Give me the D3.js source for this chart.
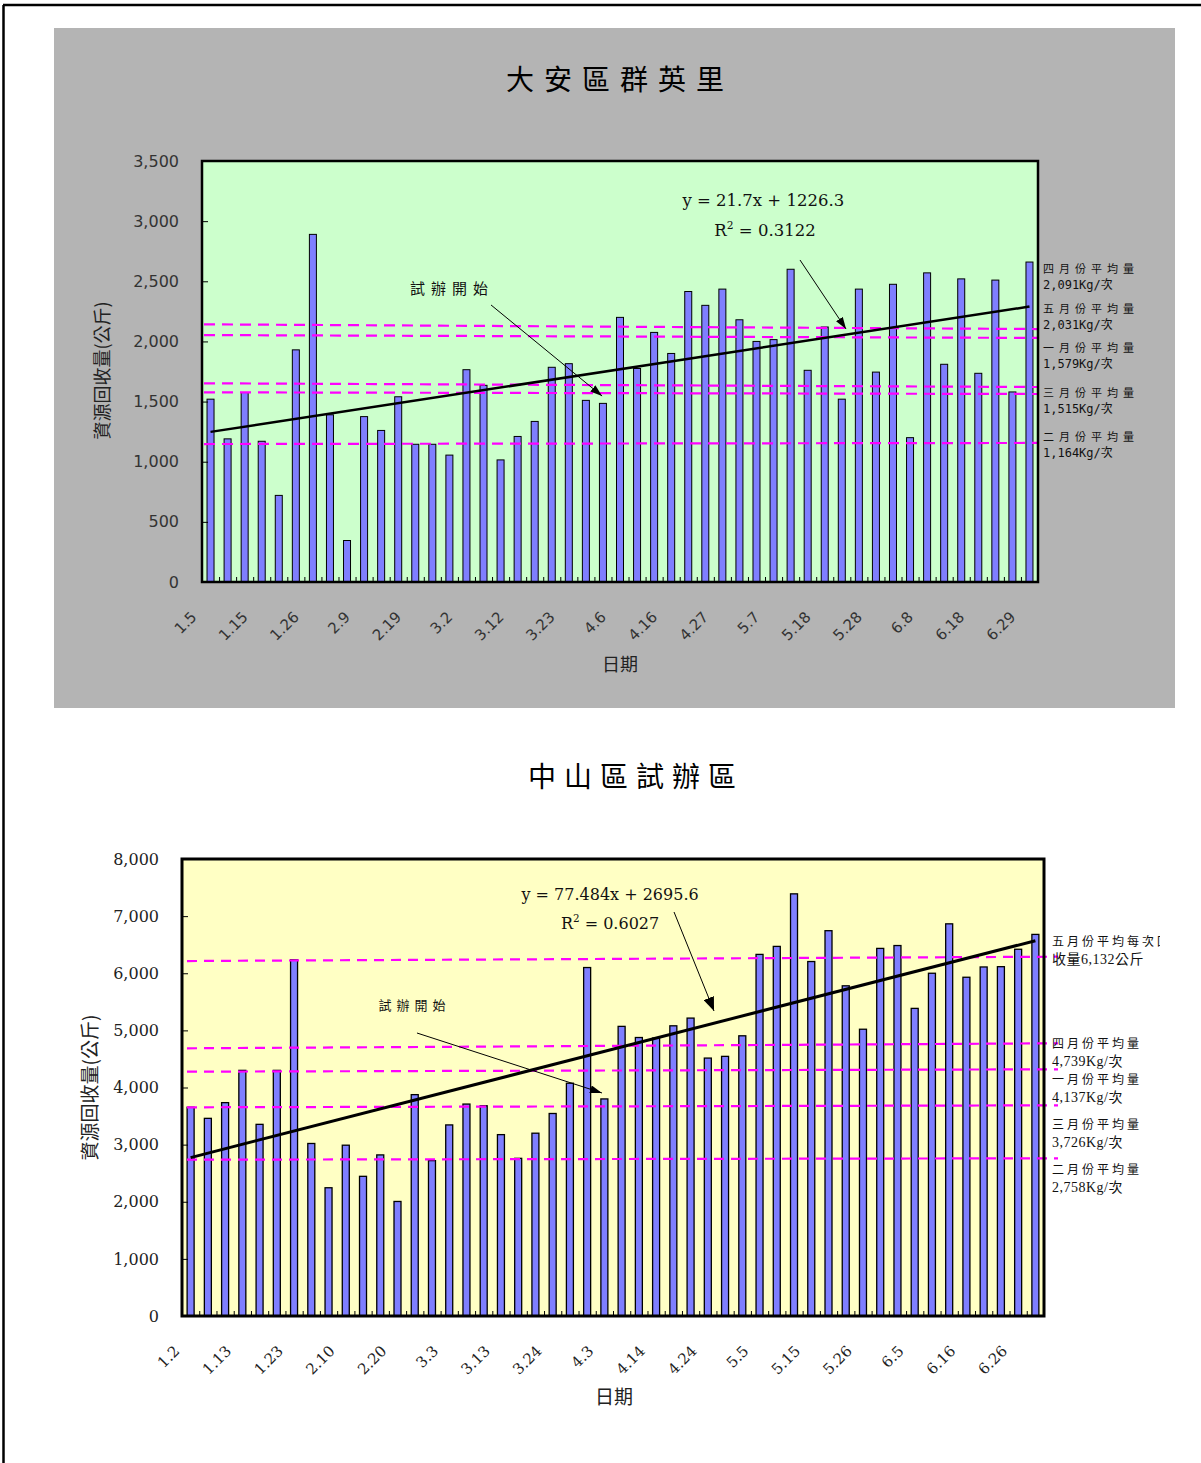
<!DOCTYPE html>
<html><head><meta charset="utf-8">
<script src="https://cdn.jsdelivr.net/npm/d3@7"></script>
<style>html,body{margin:0;padding:0;background:#fff;} svg{display:block;}</style>
</head><body>
<script>
// ---------------- DATA ----------------
const topTitle = "大安區群英里";
const topDates = ["1.5","1.8","1.12","1.15","1.19","1.22","1.26","1.29","2.2","2.9","2.12","2.16","2.19","2.23","2.26","3.2","3.5","3.9","3.12","3.16","3.19","3.23","3.26","3.30","4.6","4.9","4.13","4.16","4.20","4.23","4.27","4.30","5.4","5.7","5.11","5.14","5.18","5.21","5.25","5.28","6.1","6.4","6.8","6.11","6.15","6.18","6.22","6.25","6.29"];
const topTickLabels = ["1.5","1.15","1.26","2.9","2.19","3.2","3.12","3.23","4.6","4.16","4.27","5.7","5.18","5.28","6.8","6.18","6.29"];
const topValues = [1520,1190,1575,1170,720,1930,2890,1390,345,1375,1260,1540,1145,1145,1055,1765,1635,1015,1210,1335,1785,1815,1510,1485,2200,1775,2075,1900,2415,2300,2435,2180,2000,2015,2600,1760,2120,1520,2435,1745,2475,1200,2570,1810,2520,1735,2510,1580,2660];
const topYTicks = [0,500,1000,1500,2000,2500,3000,3500];
const topTrend = [21.7, 1226.3];          // slope, intercept
const topR2 = "0.3122";
const topAvgMonths = ["四","五","一","三","二"];
const topAvgValues = [2091,2031,1579,1515,1164];
const topAvgLineLeft = [2142,2053,1652,1577,1147];   // dashed line levels as drawn (left end)
const topAvgLineRight = [2103,2029,1621,1563,1156];  // (right end)
const topEqArrow = [[34.55,2677],[37.25,2103]];      // [category index, value]
const topStartArrow = [[16.44,2303],[22.95,1546]];
const topEqPos = [32.4,3176];
const topR2Pos = [32.5,2926];
const topStartPos = [13.98,2436];

const botTitle = "中山區試辦區";
const botDates = ["1.2","1.6","1.9","1.13","1.16","1.20","1.23","1.27","1.30","2.10","2.13","2.17","2.20","2.24","2.27","3.3","3.6","3.10","3.13","3.17","3.20","3.24","3.27","3.31","4.3","4.7","4.10","4.14","4.17","4.21","4.24","4.28","5.1","5.5","5.8","5.12","5.15","5.19","5.22","5.26","5.29","6.2","6.5","6.9","6.12","6.16","6.19","6.23","6.26","6.30"];
const botTickLabels = ["1.2","1.13","1.23","2.10","2.20","3.3","3.13","3.24","4.3","4.14","4.24","5.5","5.15","5.26","6.5","6.16","6.26"];
const botValues = [3655,3460,3735,4300,3355,4300,6235,3020,2245,2990,2445,2820,2005,3875,2720,3345,3710,3680,3175,2760,3200,3545,4075,6100,3800,5070,4875,4865,5080,5215,4515,4545,4905,6330,6470,7390,6205,6745,5780,5020,6435,6485,5385,6000,6865,5930,6110,6115,6420,6680];
const botYTicks = [0,1000,2000,3000,4000,5000,6000,7000,8000];
const botTrend = [77.484, 2695.6];
const botR2 = "0.6027";
const botAvgMonths = ["五","四","一","三","二"];
const botAvgValues = [6132,4739,4137,3726,2758];
const botAvgLineLeft = [6214,4686,4277,3653,2736];
const botAvgLineRight = [6290,4774,4319,3688,2761];
const botEqArrow = [[28.04,7072],[30.36,5339]];
const botStartArrow = [[13.13,4954],[23.86,3904]];
const botEqPos = [24.33,7387];
const botR2Pos = [24.33,6880];
const botStartPos = [12.84,5444];

// ---------------- DRAW ----------------
const W = 1201, H = 1463;
const svg = d3.select("body").append("svg").attr("width", W).attr("height", H);
const defs = svg.append("defs");
function marker(id, L, Wd){
  defs.append("marker").attr("id", id).attr("viewBox", `0 0 ${L} ${Wd}`)
    .attr("refX", L).attr("refY", Wd/2).attr("markerWidth", L).attr("markerHeight", Wd)
    .attr("markerUnits", "userSpaceOnUse").attr("orient", "auto")
    .append("path").attr("d", `M0,0L${L},${Wd/2}L0,${Wd}Z`).attr("fill", "#000");
}
marker("ahS", 12, 8);
marker("ahB", 14, 11);
defs.append("clipPath").attr("id","pageclip").append("rect").attr("x",0).attr("y",0).attr("width",1160).attr("height",H);

// page border
svg.append("line").attr("x1",3).attr("y1",5).attr("x2",W).attr("y2",5).attr("stroke","#000").attr("stroke-width",2.5);
svg.append("line").attr("x1",3.5).attr("y1",5).attr("x2",3.5).attr("y2",H).attr("stroke","#000").attr("stroke-width",2.5);

// top grey panel
svg.append("rect").attr("x",54).attr("y",28).attr("width",1121).attr("height",680).attr("fill","#B4B4B4");

const CJK = "'Noto Sans CJK TC','Noto Sans CJK SC',sans-serif";

function drawChart(c){
  const g = svg.append("g");
  const n = c.dates.length;
  const x = d3.scaleBand().domain(c.dates).range([c.x0, c.x1]);
  const xi = d3.scaleLinear().domain([-0.5, n - 0.5]).range([c.x0, c.x1]);
  const y = d3.scaleLinear().domain([0, c.yMax]).range([c.y1, c.y0]);

  // title
  g.append("text").attr("x", c.titleX + c.titleLS/2).attr("y", c.titleY).attr("dy","0.35em")
    .attr("text-anchor","middle").attr("font-family", CJK).attr("font-size", c.titleSize)
    .attr("letter-spacing", c.titleLS).attr("fill","#000").text(c.title);

  // plot bg
  g.append("rect").attr("x", c.x0).attr("y", c.y0).attr("width", c.x1 - c.x0).attr("height", c.y1 - c.y0).attr("fill", c.plotFill);

  // bars
  const bw = 7;
  g.append("g").selectAll("rect").data(c.values).join("rect")
    .attr("x", (d,i) => x(c.dates[i]) + x.bandwidth()/2 - bw/2)
    .attr("y", d => y(d)).attr("width", bw).attr("height", d => y(0) - y(d))
    .attr("fill", "#7F7FFF").attr("stroke", "#000").attr("stroke-width", c.barStroke);

  // category boundary ticks (inside)
  g.append("g").attr("transform", `translate(0,${c.y1})`)
    .call(d3.axisBottom(xi).tickValues(d3.range(n + 1).map(i => i - 0.5)).tickSize(-5).tickFormat(""))
    .call(s => s.select(".domain").remove())
    .call(s => s.selectAll("line").attr("stroke","#000"));

  // x labels
  const xa = g.append("g").attr("transform", `translate(0,${c.y1})`)
    .call(d3.axisBottom(x).tickValues(c.labels).tickSize(0));
  xa.select(".domain").remove();
  xa.selectAll("text").attr("x",0).attr("y",0).attr("dy",0)
    .attr("transform", `translate(${c.lblDx},${c.lblDy}) rotate(-45)`)
    .attr("text-anchor","end").attr("font-family", c.tickFont).attr("font-size", c.xTickSize).attr("fill", c.tickColor);

  // y axis (inside ticks + labels)
  const ya = g.append("g").attr("transform", `translate(${c.x0},0)`)
    .call(d3.axisLeft(y).tickValues(c.yTicks).tickSizeInner(-6).tickSizeOuter(0).tickPadding(c.yPad).tickFormat(d3.format(",")));
  ya.select(".domain").remove();
  ya.selectAll("line").attr("stroke","#000");
  ya.selectAll("text").attr("font-family", c.tickFont).attr("font-size", c.yTickSize).attr("fill", c.tickColor);

  // average dashed lines
  g.append("g").selectAll("line").data(c.avgLeft).join("line")
    .attr("x1", c.avgX0).attr("x2", c.avgX1)
    .attr("y1", d => y(d)).attr("y2", (d,i) => y(c.avgRight[i]))
    .attr("stroke", "#FF00FF").attr("stroke-width", 2.2).attr("stroke-dasharray", c.dash);

  // trend line
  g.append("line")
    .attr("x1", xi(0)).attr("y1", y(c.trend[0] * 1 + c.trend[1]))
    .attr("x2", xi(n - 1)).attr("y2", y(c.trend[0] * n + c.trend[1]))
    .attr("stroke", "#000").attr("stroke-width", c.trendW);

  // frame
  g.append("rect").attr("x", c.x0).attr("y", c.y0).attr("width", c.x1 - c.x0).attr("height", c.y1 - c.y0)
    .attr("fill","none").attr("stroke","#000").attr("stroke-width", c.frameW);

  // equation
  const fmtSign = c.trend[1] >= 0 ? " + " : " - ";
  g.append("text").attr("x", xi(c.eqPos[0])).attr("y", y(c.eqPos[1])).attr("dy","0.35em")
    .attr("text-anchor","middle").attr("font-family", c.eqFont).attr("font-size", c.eqSize).attr("fill","#111")
    .text(`y = ${c.trend[0]}x${fmtSign}${Math.abs(c.trend[1])}`);
  const r2 = g.append("text").attr("x", xi(c.r2Pos[0])).attr("y", y(c.r2Pos[1])).attr("dy","0.35em")
    .attr("text-anchor","middle").attr("font-family", c.eqFont).attr("font-size", c.eqSize).attr("fill","#111");
  r2.append("tspan").text("R");
  r2.append("tspan").attr("dy", -7).attr("font-size", c.eqSize * 0.65).text("2");
  r2.append("tspan").attr("dy", 7).text(" = " + c.r2);

  // arrows
  g.append("line").attr("x1", xi(c.eqArrow[0][0])).attr("y1", y(c.eqArrow[0][1]))
    .attr("x2", xi(c.eqArrow[1][0])).attr("y2", y(c.eqArrow[1][1]))
    .attr("stroke","#000").attr("stroke-width",1).attr("marker-end", `url(#${c.eqMarker})`);
  g.append("line").attr("x1", xi(c.startArrow[0][0])).attr("y1", y(c.startArrow[0][1]))
    .attr("x2", xi(c.startArrow[1][0])).attr("y2", y(c.startArrow[1][1]))
    .attr("stroke","#000").attr("stroke-width",1).attr("marker-end", "url(#ahS)");
  g.append("text").attr("x", xi(c.startPos[0]) + c.startLS/2).attr("y", y(c.startPos[1])).attr("dy","0.35em")
    .attr("text-anchor","middle").attr("font-family", CJK).attr("font-size", c.startSize)
    .attr("letter-spacing", c.startLS).attr("fill","#111").text("試辦開始");

  // axis titles
  g.append("text").attr("transform", `translate(${c.yTitleX},${(c.y0 + c.y1)/2 + c.yTitleDy}) rotate(-90)`)
    .attr("dy","0.35em").attr("text-anchor","middle").attr("font-family", CJK).attr("font-size", c.axTitleSize)
    .attr("fill","#222").text("資源回收量(公斤)");
  g.append("text").attr("x", c.xTitleX).attr("y", c.xTitleY).attr("dy","0.35em")
    .attr("text-anchor","middle").attr("font-family", CJK).attr("font-size", c.axTitleSize)
    .attr("fill","#222").text("日期");

  // average labels (right side)
  const lab = g.append("g").attr("clip-path","url(#pageclip)");
  c.avgMonths.forEach((m, i) => {
    const lines = c.labelLines(m, c.avgValues[i], i);
    lab.append("text").attr("x", c.lblX).attr("y", c.lblY[i]).attr("dy","0.35em")
      .attr("font-family", CJK).attr("font-size", c.lblSize).attr("letter-spacing", c.lblLS)
      .attr("fill","#111").text(lines[0]);
    lab.append("text").attr("x", c.lblX).attr("y", c.lblY[i] + c.lblGap).attr("dy","0.35em")
      .attr("font-family", c.numFont).attr("font-size", c.numSize).attr("letter-spacing", c.numLS)
      .attr("fill","#111").text(lines[1]);
  });
}

const fmt = d3.format(",");

drawChart({
  title: topTitle, titleX: 615, titleY: 80, titleSize: 28, titleLS: 10,
  dates: topDates, labels: topTickLabels, values: topValues, yTicks: topYTicks, yMax: 3500,
  x0: 202, x1: 1038, y0: 161, y1: 582, plotFill: "#CCFFCC", barStroke: 1,
  tickFont: "'DejaVu Sans',sans-serif", tickColor: "#333", xTickSize: 15, yTickSize: 16, yPad: 23,
  lblDx: -13, lblDy: 36,
  avgLeft: topAvgLineLeft, avgRight: topAvgLineRight, avgX0: 204, avgX1: 1037, dash: "11,7",
  trend: topTrend, trendW: 2.5, frameW: 2.5,
  eqPos: topEqPos, r2Pos: topR2Pos, r2: topR2, eqFont: "'DejaVu Serif',serif", eqSize: 16.5,
  eqArrow: topEqArrow, eqMarker: "ahS", startArrow: topStartArrow, startPos: topStartPos, startSize: 15, startLS: 6,
  yTitleX: 103, yTitleDy: -1, xTitleX: 620, xTitleY: 665, axTitleSize: 18,
  avgMonths: topAvgMonths, avgValues: topAvgValues,
  labelLines: (m, v) => [m + "月份平均量", fmt(v) + "Kg/次"],
  lblX: 1043, lblY: [269, 309, 348, 393, 437], lblGap: 16, lblSize: 11, lblLS: 5,
  numFont: "'DejaVu Sans Mono'," + CJK, numSize: 12, numLS: 0
});

drawChart({
  title: botTitle, titleX: 632, titleY: 777, titleSize: 28, titleLS: 8,
  dates: botDates, labels: botTickLabels, values: botValues, yTicks: botYTicks, yMax: 8000,
  x0: 182, x1: 1044, y0: 859, y1: 1316, plotFill: "#FFFFC4", barStroke: 1.3,
  tickFont: "'DejaVu Serif',serif", tickColor: "#222", xTickSize: 15, yTickSize: 16, yPad: 23,
  lblDx: -10, lblDy: 36,
  avgLeft: botAvgLineLeft, avgRight: botAvgLineRight, avgX0: 187, avgX1: 1058, dash: "10,7",
  trend: botTrend, trendW: 3, frameW: 3,
  eqPos: botEqPos, r2Pos: botR2Pos, r2: botR2, eqFont: "'DejaVu Serif',serif", eqSize: 16,
  eqArrow: botEqArrow, eqMarker: "ahB", startArrow: botStartArrow, startPos: botStartPos, startSize: 13, startLS: 5,
  yTitleX: 90, yTitleDy: 0, xTitleX: 614, xTitleY: 1397, axTitleSize: 19,
  avgMonths: botAvgMonths, avgValues: botAvgValues,
  labelLines: (m, v, i) => i === 0 ? [m + "月份平均每次回", "收量" + fmt(v) + "公斤"] : [m + "月份平均量", fmt(v) + "Kg/次"],
  lblX: 1052, lblY: [942, 1044, 1080, 1125, 1170], lblGap: 17, lblSize: 12, lblLS: 3,
  numFont: "'Liberation Serif'," + CJK, numSize: 14, numLS: 0.5
});
</script>
</body></html>
